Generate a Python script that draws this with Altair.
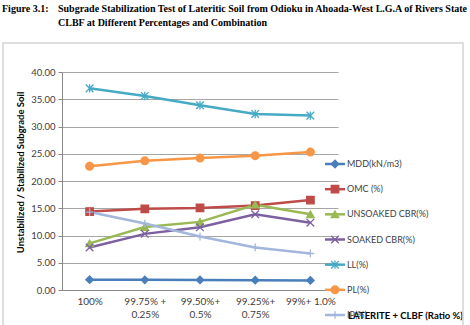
import altair as alt
import pandas as pd

# Mix ratios (laterite + CLBF); "|" marks a line break in the axis label
categories = ["100%", "99.75% +|0.25%", "99.50%+|0.5%", "99.25%+|0.75%", "99%+ 1.0%"]
series = ["MDD(kN/m3)", "OMC (%)", "UNSOAKED CBR(%)", "SOAKED CBR(%)", "LL(%)", "PL(%)", "IP(%)"]

mdd = [1.90, 1.86, 1.84, 1.80, 1.76]
omc = [14.4, 14.9, 15.05, 15.5, 16.5]
unsoaked_cbr = [8.55, 11.55, 12.5, 15.65, 13.9]
soaked_cbr = [7.8, 10.3, 11.5, 13.9, 12.35]
ll = [37.0, 35.6, 33.9, 32.3, 32.0]
pl = [22.7, 23.7, 24.2, 24.65, 25.3]
ip = [14.3, 12.2, 9.8, 7.8, 6.7]

colors = ["#4a7ebb", "#be4b48", "#98b954", "#7d60a0", "#46aac5", "#f79646", "#a3b6db"]
shapes = [
    "diamond",
    "square",
    "triangle-up",
    "M-1,-1L1,1M-1,1L1,-1",
    "M-1,-1L1,1M-1,1L1,-1M0,-1.1L0,1.1",
    "circle",
    "M-1,0L1,0M0,-1L0,1",
]
sizes = [55, 60, 75, 55, 60, 80, 55]

all_values = [mdd, omc, unsoaked_cbr, soaked_cbr, ll, pl, ip]
rows = []
for name, vals in zip(series, all_values):
    for cat, v in zip(categories, vals):
        rows.append({"series": name, "cat": cat, "value": v})
df = pd.DataFrame(rows)

legend_df = pd.DataFrame({"series": series, "li": list(range(len(series)))})

W, H = 276, 218
FONT = "Lato"
TXT = "#404040"
HEAD_FONT = "Liberation Serif"
HEAD_SIZE = 10

color_scale = alt.Scale(domain=series, range=colors)
shape_scale = alt.Scale(domain=series, range=shapes)
size_scale = alt.Scale(domain=series, range=sizes)

x_enc = alt.X(
    "cat:N",
    sort=categories,
    scale=alt.Scale(type="point", padding=0.5),
    axis=alt.Axis(
        labelExpr="split(datum.label, '|')",
        labelAngle=0,
        labelFont=FONT,
        labelFontSize=10,
        labelColor=TXT,
        labelPadding=6,
        labelLineHeight=13,
        labelOverlap=False,
        ticks=False,
        domainColor="#888888",
        grid=False,
        title="LATERITE + CLBF (Ratio %)",
        titleFont=FONT,
        titleFontSize=9.5,
        titleFontWeight="bold",
        titleColor="#000000",
        titleX=343,
        titleY=25,
        titleAlign="center",
        titleBaseline="middle",
    ),
)
y_enc = alt.Y(
    "value:Q",
    scale=alt.Scale(domain=[0, 40]),
    axis=alt.Axis(
        values=[0, 5, 10, 15, 20, 25, 30, 35, 40],
        format=".2f",
        labelFont=FONT,
        labelFontSize=9.5,
        labelColor=TXT,
        labelPadding=3,
        tickSize=4,
        tickColor="#888888",
        domainColor="#888888",
        gridColor="#a6a6a6",
        title="Unstabilized / Stabilized Subgrade  Soil",
        titleFont=FONT,
        titleFontSize=9.5,
        titleFontWeight="bold",
        titleColor="#000000",
        titleX=-42,
        titleY=100,
        titleAlign="center",
        titleBaseline="middle",
    ),
)

base = alt.Chart(df)
lines = base.mark_line(strokeWidth=2.5).encode(
    x=x_enc,
    y=y_enc,
    color=alt.Color("series:N", scale=color_scale, legend=None),
)
points = base.mark_point(filled=True, strokeWidth=1.3, opacity=1).encode(
    x=x_enc,
    y=y_enc,
    color=alt.Color("series:N", scale=color_scale, legend=None),
    stroke=alt.Stroke("series:N", scale=color_scale, legend=None),
    shape=alt.Shape("series:N", scale=shape_scale, legend=None),
    size=alt.Size("series:N", scale=size_scale, legend=None),
)
plot = alt.layer(lines, points)

# Hand-built legend to the right of the plot
ly = alt.Y("li:Q", scale=alt.Scale(domain=[0, 6], range=[92, 243]), axis=None)
leg = alt.Chart(legend_df)
leg_lines = leg.mark_rule(strokeWidth=2.5).encode(
    x=alt.value(263), x2=alt.value(283), y=ly,
    color=alt.Color("series:N", scale=color_scale, legend=None),
)
leg_points = leg.mark_point(filled=True, strokeWidth=1.3, opacity=1).encode(
    x=alt.value(273), y=ly,
    color=alt.Color("series:N", scale=color_scale, legend=None),
    stroke=alt.Stroke("series:N", scale=color_scale, legend=None),
    shape=alt.Shape("series:N", scale=shape_scale, legend=None),
    size=alt.Size("series:N", scale=size_scale, legend=None),
)
leg_text = leg.mark_text(align="left", baseline="middle", font=FONT, fontSize=9, color=TXT).encode(
    x=alt.value(285), y=ly, text="series:N",
)
legend = alt.layer(leg_lines, leg_points, leg_text)

one = pd.DataFrame({"a": [0]})
frame = alt.Chart(one).mark_rect(fill=None, stroke="#d4d4d4", strokeWidth=1.5).encode(
    x=alt.value(-59), x2=alt.value(401), y=alt.value(-29), y2=alt.value(262),
)
head_style = dict(align="left", baseline="middle", font=HEAD_FONT, fontSize=HEAD_SIZE,
                  fontWeight="bold", color="#000000")
fig_label = alt.Chart(one).mark_text(**head_style).encode(
    x=alt.value(-60), y=alt.value(-63), text=alt.value("Figure 3.1:"))
heading1 = alt.Chart(one).mark_text(**head_style).encode(
    x=alt.value(-4), y=alt.value(-63),
    text=alt.value("Subgrade Stabilization Test of Lateritic Soil from Odioku in Ahoada-West L.G.A of Rivers State"),
)
heading2 = alt.Chart(one).mark_text(**head_style).encode(
    x=alt.value(-4), y=alt.value(-49.5),
    text=alt.value("CLBF at Different Percentages and Combination"),
)

chart = (
    alt.layer(frame, plot, legend, fig_label, heading1, heading2)
    .resolve_scale(y="independent")
    .properties(
        width=W,
        height=H,
        padding={"left": 62, "top": 72, "right": 132, "bottom": 35},
        autosize=alt.AutoSizeParams(type="none"),
        background="#ffffff",
    )
    .configure_view(stroke=None)
)

chart.save("out.html", embed_options={"renderer": "svg", "actions": False})
